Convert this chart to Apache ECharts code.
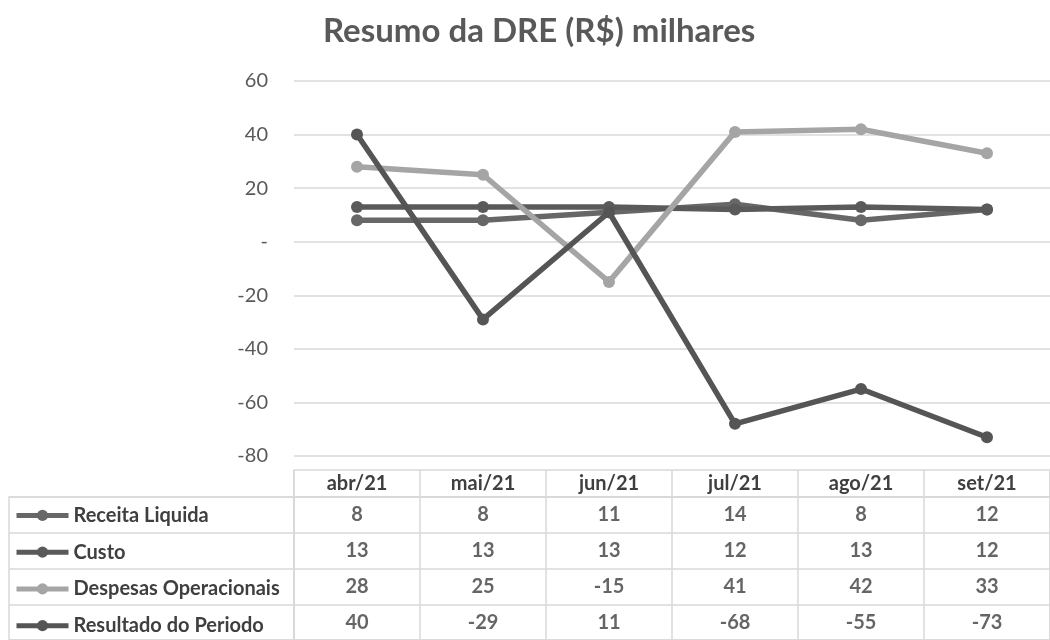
<!DOCTYPE html>
<html lang="pt">
<head>
  <meta charset="UTF-8">
  <title>Resumo da DRE</title>
  <style>
    * { margin: 0; padding: 0; }
    #main { width: 1050px; height: 640px; background: #fff; }
  </style>
</head>
<body>
  <div id="main"></div>
  <script src="https://cdn.jsdelivr.net/npm/echarts@6/dist/echarts.min.js"></script>
  <script>
    // dados
    var meses = ['abr/21', 'mai/21', 'jun/21', 'jul/21', 'ago/21', 'set/21'];
    var nomes = ['Receita Liquida', 'Custo', 'Despesas Operacionais', 'Resultado do Periodo'];
    var receita = [8, 8, 11, 14, 8, 12];
    var custo = [13, 13, 13, 12, 13, 12];
    var despesas = [28, 25, -15, 41, 42, 33];
    var resultado = [40, -29, 11, -68, -55, -73];
    var yTicks = [-80, -60, -40, -20, 0, 20, 40, 60];

    var valores = [receita, custo, despesas, resultado];
    var cores = ['#676767', '#5a5a5a', '#a5a5a5', '#555555'];
    var fonte = 'Lato';
    var borda = '#d9d9d9';
    var texto = '#3f3f3f';

    var myChart = echarts.init(document.getElementById('main'));

    // celulas da tabela: [mes, linha, valor]
    var celulas = [];
    valores.forEach(function (serie, r) {
      serie.forEach(function (v, c) {
        celulas.push([c, nomes[r], v]);
      });
    });

    var linhas = nomes.map(function (nome, i) {
      return {
        name: nome,
        type: 'line',
        xAxisIndex: 0,
        yAxisIndex: 0,
        data: valores[i],
        symbol: 'circle',
        symbolSize: 12,
        color: cores[i],
        lineStyle: { width: 5.5, color: cores[i] },
        itemStyle: { color: cores[i] },
        z: 2 + i
      };
    });

    // uma legenda por linha da tabela
    var alturaLinha = 147 / 4;
    var legendas = nomes.map(function (nome, i) {
      return {
        data: [nome],
        left: 14,
        top: 497 + alturaLinha * (i + 0.5) - 11,
        padding: 0,
        itemWidth: 52,
        itemHeight: 14,
        lineStyle: { width: 5 },
        selectedMode: false,
        textStyle: { fontFamily: fonte, fontSize: 20, fontWeight: 'bold', color: texto, lineHeight: 22 }
      };
    });

    var option = {
      animation: false,
      textStyle: { fontFamily: fonte },
      title: {
        text: 'Resumo da DRE (R$) milhares',
        left: 318,
        top: 10,
        textStyle: { fontFamily: fonte, fontSize: 33, fontWeight: 'bold', color: '#595959' }
      },
      legend: legendas,
      grid: [
        { left: 294, right: -12, top: 81, height: 375 },
        { left: 294, right: -12, top: 470, height: 27, show: true, borderColor: borda, borderWidth: 1.5 },
        { left: 294, right: -12, top: 497, height: 147, show: true, borderColor: borda, borderWidth: 1.5 },
        { left: 9, width: 285, top: 497, height: 147, show: true, borderColor: borda, borderWidth: 1.5 }
      ],
      xAxis: [
        { type: 'category', gridIndex: 0, data: meses, show: false },
        {
          type: 'category', gridIndex: 1, data: meses,
          axisLine: { show: false }, axisTick: { show: false },
          axisLabel: { margin: -13.5, verticalAlign: 'middle', fontFamily: fonte, fontSize: 20, fontWeight: 'bold', color: texto },
          splitLine: { show: true, lineStyle: { color: borda, width: 1.5 } }
        },
        {
          type: 'category', gridIndex: 2, data: meses,
          axisLine: { show: false }, axisTick: { show: false }, axisLabel: { show: false },
          splitLine: { show: true, lineStyle: { color: borda, width: 1.5 } }
        },
        { type: 'value', gridIndex: 3, show: false, min: 0, max: 1 }
      ],
      yAxis: [
        {
          type: 'value', gridIndex: 0, min: yTicks[0], max: yTicks[yTicks.length - 1], interval: 20,
          axisLine: { show: false }, axisTick: { show: false },
          axisLabel: {
            margin: 26, fontFamily: fonte, fontSize: 20, color: '#595959',
            formatter: function (v) { return v === 0 ? '-' : v; }
          },
          splitLine: { lineStyle: { color: borda, width: 1.5 } }
        },
        { type: 'category', gridIndex: 1, data: [''], show: false },
        {
          type: 'category', gridIndex: 2, data: nomes, inverse: true,
          axisLine: { show: false }, axisTick: { show: false }, axisLabel: { show: false },
          splitLine: { show: true, lineStyle: { color: borda, width: 1.5 } }
        },
        {
          type: 'category', gridIndex: 3, data: nomes, inverse: true,
          axisLine: { show: false }, axisTick: { show: false }, axisLabel: { show: false },
          splitLine: { show: true, lineStyle: { color: borda, width: 1.5 } }
        }
      ],
      series: linhas.concat([{
        name: 'tabela',
        type: 'scatter',
        xAxisIndex: 2,
        yAxisIndex: 2,
        data: celulas,
        symbolSize: 0,
        silent: true,
        label: {
          show: true,
          position: 'inside',
          formatter: function (p) { return p.value[2]; },
          fontFamily: fonte, fontSize: 20, fontWeight: 'bold', color: texto
        }
      }])
    };

    myChart.setOption(option);
  </script>
</body>
</html>
